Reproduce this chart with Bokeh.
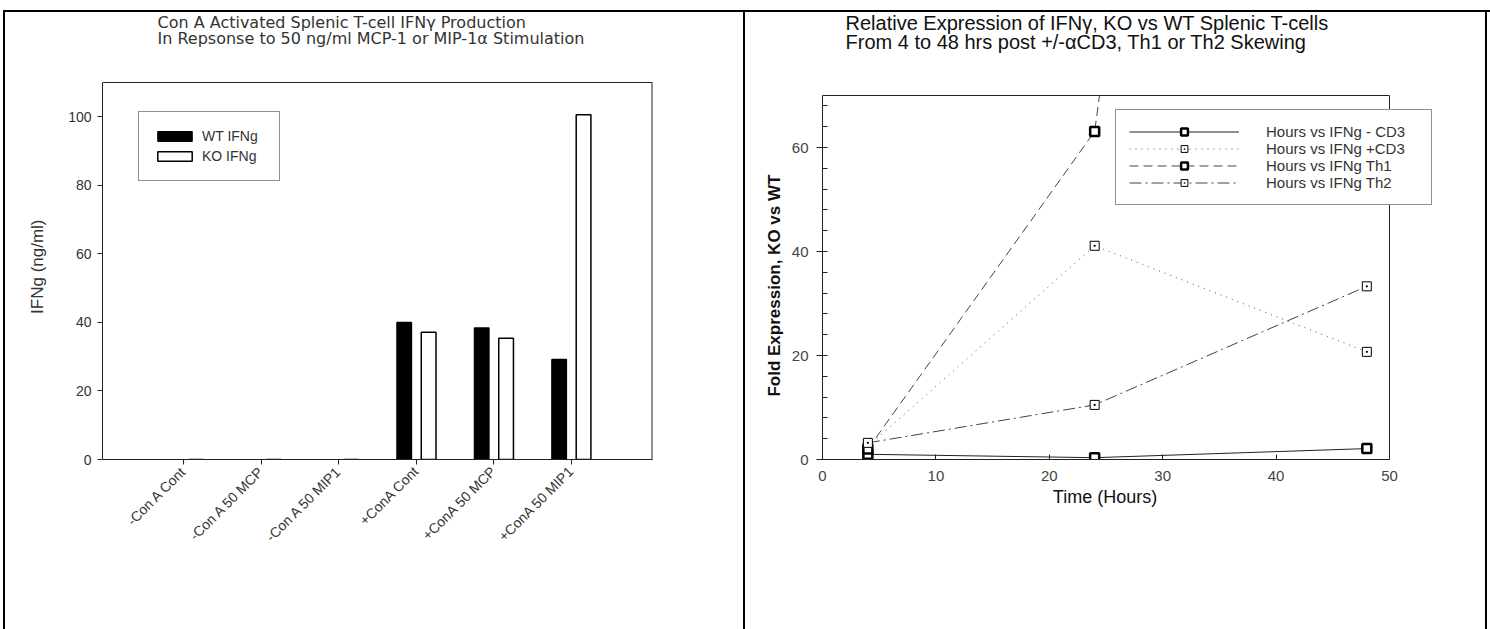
from bokeh.plotting import figure
from bokeh.layouts import row
from bokeh.models import Range1d, FixedTicker, Legend, LegendItem, Label, BoxAnnotation
from bokeh.embed import file_html
from bokeh.resources import INLINE
import math

# ---------------- data: left (bar chart) ----------------
categories = ["-Con A Cont", "-Con A 50 MCP", "-Con A 50 MIP1",
              "+ConA Cont", "+ConA 50 MCP", "+ConA 50 MIP1"]
wt_ifng = [0, 0, 0, 40.0, 38.4, 29.2]
ko_ifng = [0, 0, 0, 37.1, 35.4, 100.6]
bar_y_ticks = [0, 20, 40, 60, 80, 100]
bar_y_max = 110

# ---------------- data: right (line chart) ----------------
hours = [4, 24, 48]
ifng_neg_cd3 = [1.0, 0.35, 2.1]
ifng_pos_cd3 = [2.5, 41.1, 20.7]
ifng_th1 = [2.0, 63.1, 450.0]
ifng_th2 = [3.2, 10.5, 33.3]
line_x_ticks = [0, 10, 20, 30, 40, 50]
line_y_ticks = [0, 20, 40, 60]
line_y_max = 70

FONT = "Liberation Sans"
TFONT = "DejaVu Sans"
NB = "\u00a0"


def panel_css(right_line_x, left_line=True):
    imgs, sizes, poss = [], [], []
    if left_line:
        imgs.append("linear-gradient(#000,#000)")
        sizes.append("2px 640px")
        poss.append("3px 10px")
    imgs.append("linear-gradient(#000,#000)")
    sizes.append("100% 2px")
    poss.append("%dpx 10px" % (3 if left_line else 0))
    imgs.append("linear-gradient(#000,#000)")
    sizes.append("2px 640px")
    poss.append("%dpx 10px" % right_line_x)
    return {"background-color": "white",
            "background-image": ", ".join(imgs),
            "background-size": ", ".join(sizes),
            "background-position": ", ".join(poss),
            "background-repeat": "no-repeat"}


# =============== left figure ===============
L_LEFT, L_RIGHT, L_TOP, L_AXTOP, L_BOTTOM = 102, 652, 12, 82, 459
lx0, lx1 = -0.05, 7.05
l_ppx = (L_RIGHT - L_LEFT) / (lx1 - lx0)
l_ppy = (L_BOTTOM - L_AXTOP) / bar_y_max
ly1 = (L_BOTTOM - L_TOP) / l_ppy

p1 = figure(width=745, height=629, output_backend="svg", toolbar_location=None,
            x_range=Range1d(lx0, lx1), y_range=Range1d(0, ly1),
            min_border_left=L_LEFT, min_border_right=745 - L_RIGHT,
            min_border_top=L_TOP, min_border_bottom=629 - L_BOTTOM,
            frame_align=False)
p1.grid.visible = False
p1.outline_line_color = None
p1.border_fill_alpha = 0
p1.background_fill_alpha = 0
p1.styles = panel_css(743, left_line=True)

p1.segment(x0=[lx0, lx1], y0=[bar_y_max, 0], x1=[lx1, lx1], y1=[bar_y_max, bar_y_max],
           line_color="#222222", line_width=[1, 2])

xs = list(range(1, len(categories) + 1))
x_wt = [x - 0.155 for x in xs]
x_ko = [x + 0.16 for x in xs]
r_wt = p1.vbar(x=x_wt, top=wt_ifng, width=0.19, fill_color="black",
               line_color="black", line_width=1.2)
r_ko = p1.vbar(x=x_ko, top=ko_ifng, width=0.19, fill_color="white",
               line_color="black", line_width=1.5)

p1.xaxis.ticker = FixedTicker(ticks=xs)
p1.xaxis.major_label_overrides = {x: c for x, c in zip(xs, categories)}
p1.xaxis.major_label_orientation = math.pi / 4
p1.yaxis.ticker = FixedTicker(ticks=bar_y_ticks)
p1.yaxis.bounds = (0, bar_y_max)
# trailing no-break spaces keep the label centred on the 0-110 axis part
p1.yaxis.axis_label = "IFNg (ng/ml)" + NB * 13
for ax in (p1.xaxis[0], p1.yaxis[0]):
    ax.axis_line_color = "#222222"
    ax.major_tick_line_color = "#222222"
    ax.major_tick_out = 5
    ax.major_tick_in = 0
    ax.minor_tick_line_color = None
    ax.major_label_text_font = FONT
    ax.major_label_text_font_size = "14px"
    ax.major_label_text_color = "#333333"
    ax.axis_label_text_font = FONT
    ax.axis_label_text_font_size = "17px"
    ax.axis_label_text_font_style = "normal"
    ax.axis_label_text_color = "#333333"
p1.yaxis.major_label_standoff = 6
p1.yaxis.axis_label_standoff = 18
p1.xaxis.major_label_standoff = 4

leg1 = Legend(items=[LegendItem(label="WT IFNg", renderers=[r_wt]),
                     LegendItem(label="KO IFNg", renderers=[r_ko])],
              location=(36, 278), glyph_width=43, glyph_height=12,
              label_height=20, label_width=63, padding=14, spacing=0,
              label_standoff=6, label_text_font=FONT, label_text_font_size="14px",
              label_text_color="#333333", border_line_color="#222222",
              border_line_width=1, background_fill_color="white",
              background_fill_alpha=1.0, margin=0)
p1.add_layout(leg1, "center")

for cy, txt in [(22, "Con A Activated Splenic T-cell IFN\u03b3 Production"),
                (38, "In Repsonse to 50 ng/ml  MCP-1 or MIP-1\u03b1 Stimulation")]:
    p1.add_layout(Label(x=lx0 + (157 - L_LEFT) / l_ppx, y=(L_BOTTOM - cy) / l_ppy,
                        text=txt, text_font=TFONT, text_font_size="16px",
                        text_color="#333333", text_baseline="middle",
                        text_align="left"))

# =============== right figure ===============
R_LEFT, R_AXRIGHT, R_RIGHT, R_TOP, R_AXTOP, R_BOTTOM = 77, 644, 687, 12, 95, 459
rx0, rx1 = line_x_ticks[0], line_x_ticks[-1]
r_ppx = (R_AXRIGHT - R_LEFT) / (rx1 - rx0)
r_ppy = (R_BOTTOM - R_AXTOP) / line_y_max
rx_end = rx0 + (R_RIGHT - R_LEFT) / r_ppx
ry_end = (R_BOTTOM - R_TOP) / r_ppy

p2 = figure(width=745, height=629, output_backend="svg", toolbar_location=None,
            x_range=Range1d(rx0, rx_end), y_range=Range1d(0, ry_end),
            min_border_left=R_LEFT, min_border_right=745 - R_RIGHT,
            min_border_top=R_TOP, min_border_bottom=629 - R_BOTTOM,
            frame_align=False)
p2.grid.visible = False
p2.outline_line_color = None
p2.border_fill_alpha = 0
p2.background_fill_alpha = 0
p2.styles = panel_css(740, left_line=False)

# right frame edge (glyph level, so the legend covers it)
p2.segment(x0=[rx1], y0=[0], x1=[rx1], y1=[line_y_max],
           line_color="#222222", line_width=1)

series = [
    ("Hours vs IFNg - CD3", ifng_neg_cd3, "solid", "#222222", "square", 2.5),
    ("Hours vs IFNg +CD3", ifng_pos_cd3, "1 5", "#555555", "square_dot", 1.0),
    ("Hours vs IFNg Th1", ifng_th1, "9 5", "#444444", "square", 2.5),
    ("Hours vs IFNg Th2", ifng_th2, "12 4 2 4", "#444444", "square_dot", 1.0),
]
items = []
for name, vals, dash, col, mk, mlw in series:
    lr = p2.line(hours, vals, line_color=col, line_width=1, line_dash=dash)
    sr = p2.scatter(hours, vals, marker=mk, size=9, fill_color="white",
                    line_color="black", line_width=mlw)
    items.append(LegendItem(label=name, renderers=[lr, sr]))

# mask everything drawn above the top of the y axis
p2.add_layout(BoxAnnotation(bottom=line_y_max, fill_color="white", fill_alpha=1.0,
                            line_color=None))
# top frame edge drawn over the mask
p2.segment(x0=[rx0], y0=[line_y_max], x1=[rx1], y1=[line_y_max],
           line_color="#222222", line_width=1, level="overlay")

p2.xaxis.ticker = FixedTicker(ticks=line_x_ticks)
p2.xaxis.bounds = (rx0, rx1)
p2.yaxis.ticker = FixedTicker(ticks=line_y_ticks,
                              minor_ticks=[v for v in range(0, line_y_max + 1, 4)])
p2.yaxis.bounds = (0, line_y_max)
p2.xaxis.axis_label = "Time (Hours)" + NB * 9
p2.yaxis.axis_label = "Fold Expression, KO vs WT" + NB * 21
for ax in (p2.xaxis[0], p2.yaxis[0]):
    ax.axis_line_color = "#222222"
    ax.major_tick_line_color = "#222222"
    ax.major_label_text_font = FONT
    ax.major_label_text_font_size = "15px"
    ax.major_label_text_color = "#444444"
    ax.axis_label_text_font = FONT
    ax.axis_label_text_color = "#111111"
p2.xaxis.major_tick_in = 5
p2.xaxis.major_tick_out = 0
p2.xaxis.minor_tick_line_color = None
p2.xaxis.major_label_standoff = 11
p2.xaxis.axis_label_standoff = 3
p2.xaxis.axis_label_text_font_size = "18px"
p2.xaxis.axis_label_text_font_style = "normal"
p2.yaxis.major_tick_in = 0
p2.yaxis.major_tick_out = 6
p2.yaxis.minor_tick_in = 5
p2.yaxis.minor_tick_out = 0
p2.yaxis.minor_tick_line_color = "#222222"
p2.yaxis.major_label_standoff = 8
p2.yaxis.axis_label_standoff = 5
p2.yaxis.axis_label_text_font_size = "17px"
p2.yaxis.axis_label_text_font_style = "bold"

leg2 = Legend(items=items, location=(293, 254), glyph_width=110, glyph_height=17,
              label_height=17, label_width=152, padding=13, spacing=0,
              label_standoff=27, label_text_font=FONT, label_text_font_size="15px",
              label_text_color="#333333", border_line_color="#222222",
              border_line_width=1, background_fill_color="white",
              background_fill_alpha=1.0, margin=0)
p2.add_layout(leg2, "center")

for cy, txt in [(22, "Relative Expression of IFN\u03b3, KO vs WT Splenic T-cells"),
                (41, "From 4 to 48 hrs post +/-\u03b1CD3, Th1 or Th2 Skewing")]:
    p2.add_layout(Label(x=rx0 + (845 - 745 - R_LEFT) / r_ppx, y=(R_BOTTOM - cy) / r_ppy,
                        text=txt, text_font=FONT, text_font_size="20px",
                        text_color="#111111", text_baseline="middle",
                        text_align="left"))

layout = row(p1, p2, spacing=0)
open("out.html", "w").write(file_html(layout, INLINE))
